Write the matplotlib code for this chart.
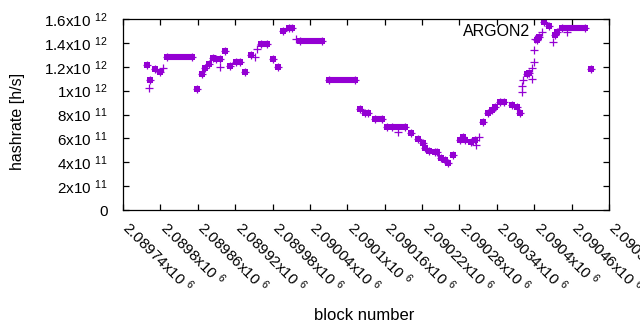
import matplotlib
matplotlib.use("Agg")
import matplotlib.pyplot as plt
import matplotlib.transforms as mtransforms
import numpy as np

plt.rcParams['font.family'] = ['Liberation Sans', 'DejaVu Sans']
plt.rcParams['mathtext.fontset'] = 'custom'
plt.rcParams['mathtext.rm'] = 'Liberation Sans'
plt.rcParams['mathtext.it'] = 'Liberation Sans:italic'
plt.rcParams['mathtext.bf'] = 'Liberation Sans:bold'

COLOR = '#9400D3'

# Individual blocks drawn as filled squares (block number, hashrate in 1e12 h/s)
sq_blocks = [2089778, 2089784, 2089791, 2089799, 2089859, 2089866, 2089871, 2089878,
             2089884, 2089889, 2089896, 2089904, 2089912, 2089935, 2089945, 2089980,
             2089988, 2089996, 2090120, 2090128, 2090134, 2090163, 2090203, 2090214,
             2090222, 2090225, 2090231, 2090251, 2090257, 2090261, 2090270, 2090286,
             2090299, 2090305, 2090318, 2090326, 2090332, 2090337, 2090364, 2090372,
             2090377, 2090388, 2090392, 2090404, 2090408, 2090416, 2090424, 2090433,
             2090437, 2090491]
sq_vals = [1.215, 1.089, 1.181, 1.159, 1.013, 1.139, 1.187, 1.226,
           1.271, 1.262, 1.262, 1.332, 1.206, 1.159, 1.295, 1.262,
           1.195, 1.499, 0.848, 0.815, 0.810, 0.698, 0.643, 0.592,
           0.559, 0.517, 0.494, 0.438, 0.419, 0.396, 0.461, 0.614,
           0.572, 0.586, 0.740, 0.810, 0.838, 0.865, 0.880, 0.865,
           0.815, 1.137, 1.148, 1.424, 1.452, 1.572, 1.544, 1.466,
           1.494, 1.181]

# Runs of consecutive blocks with the same hashrate (first block, last block, value)
run_start = [2089811, 2089922, 2089962, 2090006, 2090024, 2090070, 2090144, 2090171,
             2090240, 2090281, 2090345, 2090444]
run_end = [2089850, 2089928, 2089971, 2090012, 2090059, 2090113, 2090155, 2090193,
           2090244, 2090289, 2090351, 2090482]
run_vals = [1.279, 1.237, 1.388, 1.522, 1.413, 1.087, 0.760, 0.693,
            0.483, 0.586, 0.902, 1.522]

# Blocks drawn only with a plus sign
plus_blocks = [2089781, 2089804, 2089896, 2089952, 2089955, 2090018, 2090182, 2090306,
               2090311, 2090380, 2090381, 2090382, 2090396, 2090396, 2090399, 2090400,
               2090401, 2090412, 2090430, 2090453]
plus_vals = [1.019, 1.187, 1.195, 1.284, 1.347, 1.430, 0.656, 0.545,
             0.614, 0.991, 1.041, 1.089, 1.095, 1.187, 1.242, 1.340,
             1.432, 1.494, 1.410, 1.494]

x_ticks = [2089740 + 60 * i for i in range(14)]
x_tick_labels = ['2.08974', '2.0898', '2.08986', '2.08992', '2.08998', '2.09004', '2.0901',
                 '2.09016', '2.09022', '2.09028', '2.09034', '2.0904', '2.09046', '2.09052']
y_ticks = [0, 0.2, 0.4, 0.6, 0.8, 1.0, 1.2, 1.4, 1.6]
y_tick_labels = ['0', '2x10 $^{11}$', '4x10 $^{11}$', '6x10 $^{11}$', '8x10 $^{11}$',
                 '1x10 $^{12}$', '1.2x10 $^{12}$', '1.4x10 $^{12}$', '1.6x10 $^{12}$']

fig = plt.figure(figsize=(6.4, 3.3), dpi=100)
ax = fig.add_axes([123 / 640, 120 / 330, 486 / 640, 191 / 330])

SQ = 4.4
PL = 6.3
ax.hlines(run_vals, run_start, run_end, colors=COLOR, linewidth=SQ, capstyle='butt')
ax.plot(run_start + run_end, run_vals + run_vals, 's', color=COLOR, markersize=SQ, markeredgewidth=0)
ax.plot(run_start + run_end, run_vals + run_vals, '+', color=COLOR, markersize=PL, markeredgewidth=0.9)
ax.plot(sq_blocks, sq_vals, 's', color=COLOR, markersize=SQ, markeredgewidth=0)
ax.plot(sq_blocks, sq_vals, '+', color=COLOR, markersize=PL, markeredgewidth=0.9)
ax.plot(plus_blocks, plus_vals, '+', color=COLOR, markersize=PL, markeredgewidth=0.9)

ax.set_xlim(2089740, 2090520)
ax.set_ylim(0, 1.6)
ax.set_xticks(x_ticks)
ax.set_xticklabels([s + 'x10 $^{6}$' for s in x_tick_labels], rotation=-45,
                   ha='left', va='center', rotation_mode='anchor', fontsize=11)
ax.set_yticks(y_ticks)
ax.set_yticklabels(y_tick_labels, fontsize=11)
ax.tick_params(direction='in', length=4, width=0.9, top=True, right=True,
               labelcolor='#000000')
ax.tick_params(axis='y', pad=11)
ax.tick_params(axis='x', pad=11)
offset = mtransforms.ScaledTranslation(3 / 100, 1 / 100, fig.dpi_scale_trans)
for lab in ax.get_xticklabels():
    lab.set_transform(lab.get_transform() + offset)
for s in ax.spines.values():
    s.set_linewidth(0.9)

ax.text(0.838, 0.935, 'ARGON2', transform=ax.transAxes, ha='right', va='center', fontsize=11.5)
fig.text(364 / 640, 1 - 315 / 330, 'block number', ha='center', va='center', fontsize=12)
fig.text(18 / 640, 1 - 121 / 330, 'hashrate [h/s]', ha='center', va='center', rotation=90, fontsize=11.5)

fig.savefig('out.png', dpi=100)
